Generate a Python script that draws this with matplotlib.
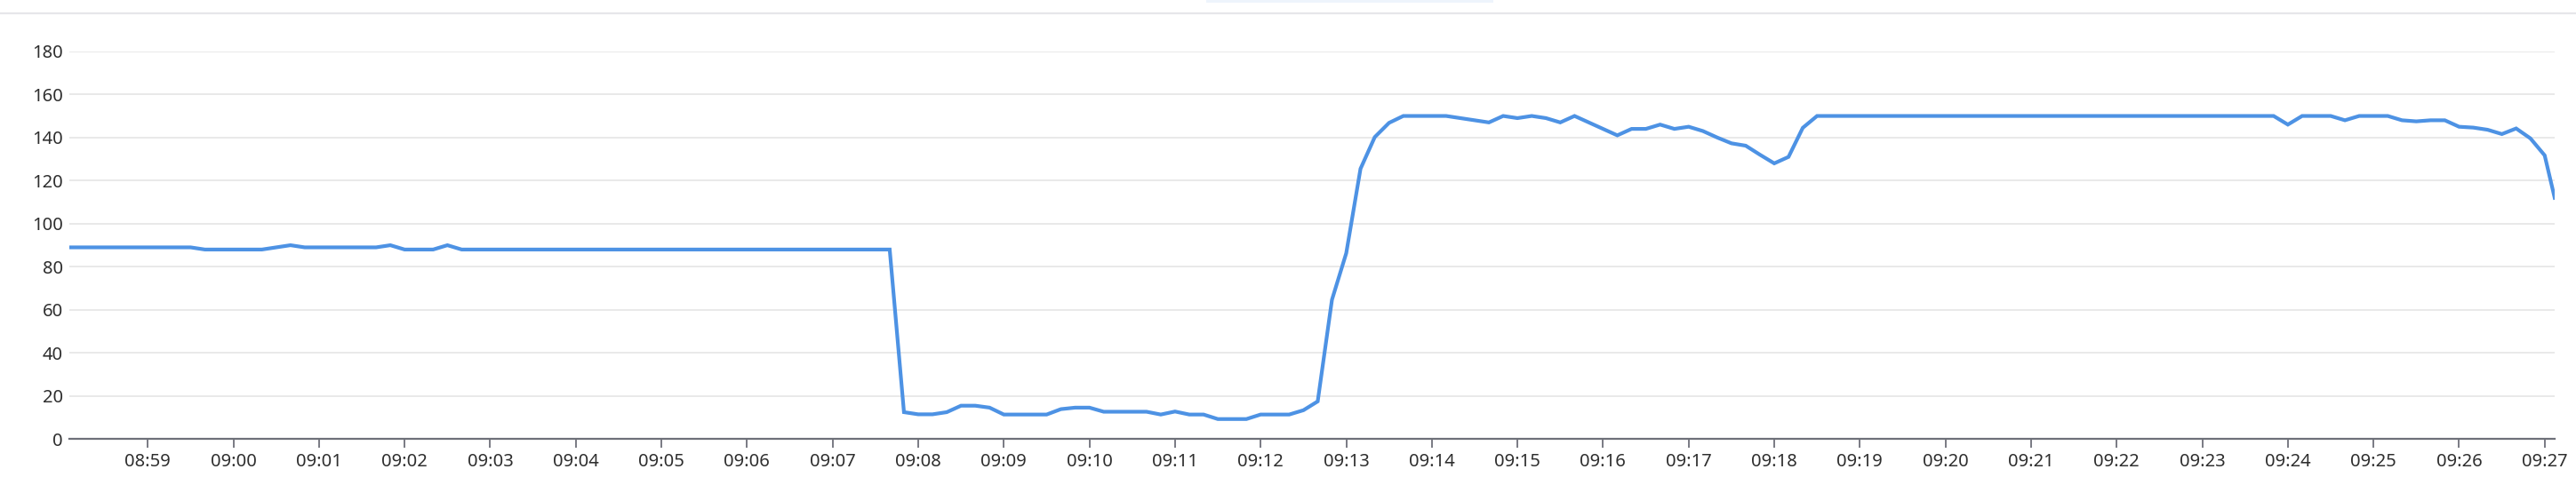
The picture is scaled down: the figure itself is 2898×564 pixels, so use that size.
import matplotlib
matplotlib.use("Agg")
import matplotlib.pyplot as plt
import matplotlib.dates as mdates
import pandas as pd

# sample times: first/last are partial steps, the rest every 10 s
TIMES = (["2024-01-01 08:58:05"]
         + [str(t) for t in pd.date_range("2024-01-01 08:58:10", "2024-01-01 09:27:00", freq="10s")]
         + ["2024-01-01 09:27:07"])

VALUES = [
    89, 89, 89, 89, 89, 89, 89, 89, 89, 89,
    88, 88, 88, 88, 88, 89, 90, 89, 89, 89,
    89, 89, 89, 90, 88, 88, 88, 90, 88, 88,
    88, 88, 88, 88, 88, 88, 88, 88, 88, 88,
    88, 88, 88, 88, 88, 88, 88, 88, 88, 88,
    88, 88, 88, 88, 88, 88, 88, 88, 88, 12.5,
    11.5, 11.5, 12.5, 15.5, 15.5, 14.6, 11.4, 11.4, 11.4, 11.4,
    13.9, 14.6, 14.6, 12.7, 12.7, 12.7, 12.7, 11.4, 12.8, 11.4,
    11.4, 9.3, 9.3, 9.3, 11.4, 11.4, 11.4, 13.4, 17.5, 64.7,
    86.3, 125.5, 140.2, 146.8, 150, 150, 150, 150, 149, 148,
    147, 150, 149, 150, 149, 147, 150, 147, 144, 141,
    144, 144, 146, 144, 145, 143, 140, 137.3, 136.2, 132,
    128, 131, 144.5, 150, 150, 150, 150, 150, 150, 150,
    150, 150, 150, 150, 150, 150, 150, 150, 150, 150,
    150, 150, 150, 150, 150, 150, 150, 150, 150, 150,
    150, 150, 150, 150, 150, 150, 146, 150, 150, 150,
    148, 150, 150, 150, 148, 147.5, 148, 148, 145, 144.6,
    143.6, 141.6, 144.2, 139.6, 131.7, 112,
]

Y_TICKS = [0, 20, 40, 60, 80, 100, 120, 140, 160, 180]

LINE_COLOR = "#4d92e4"
GRID_COLOR = "#e3e3e3"
AXIS_COLOR = "#6e7079"
TEXT_COLOR = "#2e2e2e"

plt.rcParams["font.family"] = ["Noto Sans", "DejaVu Sans"]

W, H = 2898, 564
fig = plt.figure(figsize=(W / 100, H / 100), dpi=100)

# axes box in pixels
x0, x1 = 78, 2874
y_top, y_bot = 57.8, 494.3
ax = fig.add_axes([x0 / W, (H - y_bot) / H, (x1 - x0) / W, (y_bot - y_top) / H])

t = pd.to_datetime(TIMES)
ax.plot(t, VALUES, color=LINE_COLOR, linewidth=3.0, solid_joinstyle="miter", zorder=3)

ax.set_xlim(t[0], t[-1])
ax.set_ylim(0, 180)
ax.set_yticks(Y_TICKS)

ax.xaxis.set_major_locator(mdates.MinuteLocator())
ax.xaxis.set_major_formatter(mdates.DateFormatter("%H:%M"))

for s in ("top", "right", "left"):
    ax.spines[s].set_visible(False)
ax.spines["bottom"].set_color(AXIS_COLOR)
ax.spines["bottom"].set_linewidth(1.6)
ax.spines["bottom"].set_zorder(4)

ax.grid(axis="y", color=GRID_COLOR, linewidth=1.1)
ax.set_axisbelow(True)

ax.tick_params(axis="x", length=7.5, width=1.3, color=AXIS_COLOR, pad=4,
               labelsize=14.5, labelcolor=TEXT_COLOR)
ax.tick_params(axis="y", length=0, pad=5, labelsize=14.5, labelcolor=TEXT_COLOR)

# thin separator line along the top of the panel
fig.add_artist(plt.Line2D([0, 1], [1 - 15 / H, 1 - 15 / H], transform=fig.transFigure,
                          color="#e6e6ea", linewidth=1.6))
# faint highlight strip at the very top edge
fig.add_artist(plt.Rectangle((1357 / W, 1 - 3 / H), (1680 - 1357) / W, 3 / H,
                             transform=fig.transFigure, color="#eef4fc", linewidth=0))

fig.savefig("out.png", dpi=100)
